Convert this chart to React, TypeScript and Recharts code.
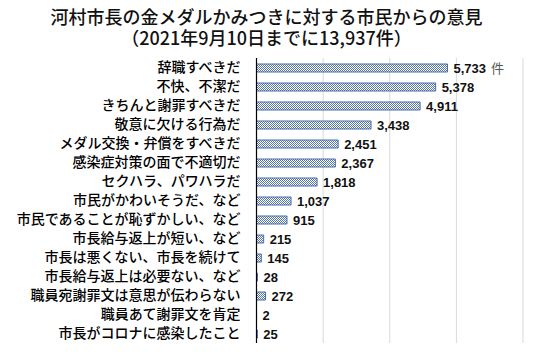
import React from "react";
import { BarChart, Bar, XAxis, YAxis, CartesianGrid, LabelList } from "recharts";

const categories = [
  "辞職すべきだ",
  "不快、不潔だ",
  "きちんと謝罪すべきだ",
  "敬意に欠ける行為だ",
  "メダル交換・弁償をすべきだ",
  "感染症対策の面で不適切だ",
  "セクハラ、パワハラだ",
  "市民がかわいそうだ、など",
  "市民であることが恥ずかしい、など",
  "市長給与返上が短い、など",
  "市長は悪くない、市長を続けて",
  "市長給与返上は必要ない、など",
  "職員宛謝罪文は意思が伝わらない",
  "職員あて謝罪文を肯定",
  "市長がコロナに感染したこと",
];
const counts = [5733, 5378, 4911, 3438, 2451, 2367, 1818, 1037, 915, 215, 145, 28, 272, 2, 25];
const xTicks = [0, 2000, 4000, 6000, 8000];
const titleLine1 = "河村市長の金メダルかみつきに対する市民からの意見";
const titleLine2 = "（2021年9月10日までに13,937件）";
const unit = "件";

const data = categories.map((name, i) => ({ name, value: counts[i] }));

const FONT = "'Noto Sans CJK JP', 'Noto Sans', sans-serif";

const ValueLabel = (props: any) => {
  const { x, y, width, height, value, index } = props;
  const tx = x + width + 6;
  const ty = y + height / 2;
  return (
    <text x={tx} y={ty} dy="0.36em" fontSize={13} fontWeight={700} fill="#111" fontFamily="'Liberation Sans', Arial, sans-serif">
      {Number(value).toLocaleString("en-US")}
      {index === 0 ? (
        <tspan fill="#555" fontWeight={400} fontFamily={FONT} fontSize={13} dx={5}>
          {unit}
        </tspan>
      ) : null}
    </text>
  );
};

export default function App() {
  return (
    <div style={{ position: "absolute", left: 0, top: 0, width: 533, height: 353, background: "#fff" }}>
      <div
        style={{
          position: "absolute",
          left: 0,
          top: 6,
          width: 533,
          textAlign: "center",
          fontFamily: FONT,
          fontSize: 18,
          fontWeight: 500,
          lineHeight: "21px",
          color: "#111",
        }}
      >
        <div>{titleLine1}</div>
        <div>{titleLine2}</div>
      </div>
      <BarChart
        width={533}
        height={353}
        data={data}
        layout="vertical"
        margin={{ top: 58, right: 10, bottom: 10, left: 0 }}
      >
        <defs>
          <pattern id="checker" width="2" height="2" patternUnits="userSpaceOnUse">
            <rect x="0" y="0" width="2" height="2" fill="#ffffff" />
            <rect x="0" y="0" width="1" height="1" fill="#5676ad" />
            <rect x="1" y="1" width="1" height="1" fill="#5676ad" />
          </pattern>
        </defs>
        <CartesianGrid horizontal={false} vertical={true} stroke="#d9d9d9" />
        <XAxis type="number" domain={[0, 8000]} ticks={xTicks} hide />
        <YAxis
          type="category"
          dataKey="name"
          width={256.5}
          tickLine={false}
          axisLine={{ stroke: "#000", strokeWidth: 1.2 }}
          tick={{ fill: "#000", fontSize: 14, fontFamily: FONT, fontWeight: 500 }}
          tickMargin={10}
          interval={0}
        />
        <Bar
          dataKey="value"
          fill="url(#checker)"
          stroke="#4a6fa5"
          strokeWidth={1}
          barSize={8}
          isAnimationActive={false}
        >
          <LabelList dataKey="value" content={ValueLabel} />
        </Bar>
      </BarChart>
    </div>
  );
}
